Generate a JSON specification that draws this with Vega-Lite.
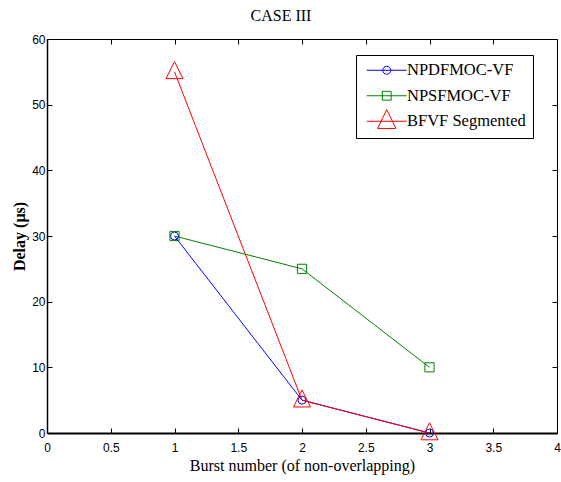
{
  "$schema": "https://vega.github.io/schema/vega-lite/v6.json",
  "width": 510,
  "height": 394,
  "autosize": {"type": "none"},
  "padding": {"left": 47, "top": 39, "right": 4, "bottom": 49},
  "background": "white",
  "title": {
    "text": "CASE III",
    "font": "Liberation Serif",
    "fontSize": 16,
    "fontWeight": "normal",
    "color": "black",
    "offset": 9,
    "dx": -21
  },
  "data": {
    "values": [
      {"series": "NPDFMOC-VF", "x": 1, "y": 30},
      {"series": "NPDFMOC-VF", "x": 2, "y": 5},
      {"series": "NPDFMOC-VF", "x": 3, "y": 0},
      {"series": "NPSFMOC-VF", "x": 1, "y": 30},
      {"series": "NPSFMOC-VF", "x": 2, "y": 25},
      {"series": "NPSFMOC-VF", "x": 3, "y": 10},
      {"series": "BFVF Segmented", "x": 1, "y": 55},
      {"series": "BFVF Segmented", "x": 2, "y": 5},
      {"series": "BFVF Segmented", "x": 3, "y": 0}
    ]
  },
  "layer": [
    {
      "mark": {"type": "line", "strokeWidth": 1, "opacity": 1},
      "encoding": {
        "x": {
          "field": "x", "type": "quantitative",
          "scale": {"domain": [0, 4], "nice": false},
          "axis": {
            "orient": "bottom",
            "values": [0, 0.5, 1, 1.5, 2, 2.5, 3, 3.5, 4],
            "format": "~g",
            "domainWidth": 2,
            "labelPadding": 14,
            "labelFlush": false,
            "labelOverlap": false,
            "title": "Burst number (of non-overlapping)",
            "titlePadding": 4
          }
        },
        "y": {
          "field": "y", "type": "quantitative",
          "scale": {"domain": [0, 60], "nice": false},
          "axis": {
            "orient": "left",
            "values": [0, 10, 20, 30, 40, 50, 60],
            "domainWidth": 1.5,
            "labelPadding": 7,
            "labelOverlap": false,
            "title": "Delay (μs)",
            "titleFontWeight": "bold",
            "titlePadding": 4
          }
        },
        "color": {
          "field": "series", "type": "nominal",
          "scale": {"domain": ["NPDFMOC-VF", "NPSFMOC-VF", "BFVF Segmented"], "range": ["#0000ff", "#008000", "#ff0000"]},
          "legend": null
        }
      }
    },
    {
      "mark": {"type": "point", "filled": false, "size": 64, "strokeWidth": 1, "opacity": 1},
      "encoding": {
        "x": {
          "field": "x", "type": "quantitative",
          "scale": {"domain": [0, 4], "nice": false},
          "axis": {
            "orient": "top",
            "values": [0, 0.5, 1, 1.5, 2, 2.5, 3, 3.5, 4],
            "labels": false,
            "domainWidth": 1,
            "title": null
          }
        },
        "y": {
          "field": "y", "type": "quantitative",
          "scale": {"domain": [0, 60], "nice": false},
          "axis": {
            "orient": "right",
            "values": [0, 10, 20, 30, 40, 50, 60],
            "labels": false,
            "domainWidth": 1,
            "title": null
          }
        },
        "color": {
          "field": "series", "type": "nominal",
          "scale": {"domain": ["NPDFMOC-VF", "NPSFMOC-VF", "BFVF Segmented"], "range": ["#0000ff", "#008000", "#ff0000"]},
          "legend": null
        },
        "shape": {
          "field": "series", "type": "nominal",
          "scale": {
            "domain": ["NPDFMOC-VF", "NPSFMOC-VF", "BFVF Segmented"],
            "range": ["circle", "M-1.15,-1.15H1.15V1.15H-1.15Z", "M0,-2.55L-2.125,1.7L2.125,1.7Z"]
          },
          "legend": null
        }
      }
    },
    {
      "transform": [{"filter": "datum.x < 0"}],
      "mark": {"type": "point", "filled": false, "size": 64, "strokeWidth": 1, "opacity": 1},
      "encoding": {
        "x": {"field": "x", "type": "quantitative", "scale": {"domain": [0, 4], "nice": false}, "axis": null},
        "y": {"field": "y", "type": "quantitative", "scale": {"domain": [0, 60], "nice": false}, "axis": null},
        "color": {
          "field": "series", "type": "nominal",
          "scale": {"domain": ["NPDFMOC-VF", "NPSFMOC-VF", "BFVF Segmented"], "range": ["#0000ff", "#008000", "#ff0000"]},
          "legend": {
            "orient": "none", "legendX": 309, "legendY": 16, "title": null,
            "padding": 7, "strokeColor": "black", "fillColor": "white", "cornerRadius": 0,
            "labelFont": "Liberation Serif", "labelFontSize": 16.5, "labelColor": "black", "labelLimit": 0,
            "symbolSize": 64, "symbolStrokeWidth": 1, "symbolOffset": 15.5, "labelOffset": 12, "rowPadding": 1.5
          }
        },
        "shape": {
          "field": "series", "type": "nominal",
          "scale": {
            "domain": ["NPDFMOC-VF", "NPSFMOC-VF", "BFVF Segmented"],
            "range": [
              "M0,-2.9M0,1.8M-5,0H5M1,0A1,1,0,1,1,-1,0A1,1,0,1,1,1,0Z",
              "M0,-2.9M0,1.8M-5,0H5M-1.1,-1.1H1.1V1.1H-1.1Z",
              "M-5,0H5M0,-2.9L-2.3,1.8L2.3,1.8Z"
            ]
          },
          "legend": {
            "orient": "none", "legendX": 309, "legendY": 16, "title": null,
            "padding": 7, "strokeColor": "black", "fillColor": "white", "cornerRadius": 0,
            "labelFont": "Liberation Serif", "labelFontSize": 16.5, "labelColor": "black", "labelLimit": 0,
            "symbolSize": 64, "symbolStrokeWidth": 1, "symbolOffset": 15.5, "labelOffset": 12, "rowPadding": 1.5
          }
        }
      }
    }
  ],
  "resolve": {
    "scale": {"shape": "independent", "color": "independent"},
    "axis": {"x": "independent", "y": "independent"}
  },
  "config": {
    "view": {"stroke": null},
    "axis": {
      "grid": false,
      "domainColor": "black",
      "tickColor": "black",
      "tickSize": -5,
      "labelColor": "black",
      "labelFont": "Liberation Sans",
      "labelFontSize": 12,
      "titleFont": "Liberation Serif",
      "titleColor": "black",
      "titleFontSize": 16,
      "titleFontWeight": "normal"
    }
  }
}
